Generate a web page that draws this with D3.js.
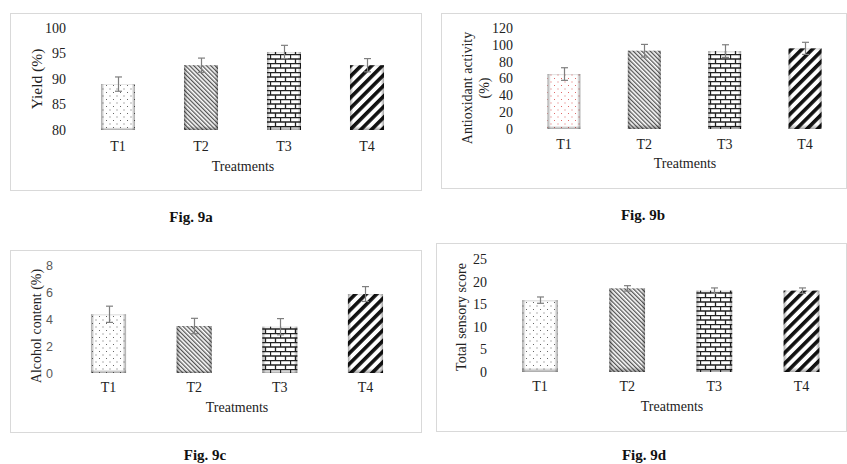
<!DOCTYPE html>
<html>
<head>
<meta charset="utf-8">
<script src="https://cdn.jsdelivr.net/npm/d3@7/dist/d3.min.js"></script>
<style>
  body { margin: 0; background: #fff; }
  svg { display: block; font-family: "Liberation Serif", "Times New Roman", serif; }
</style>
</head>
<body>
<svg id="chart" width="847" height="464"></svg>
<script>
// ── Data ──
const treatments = ["T1", "T2", "T3", "T4"];

const yieldVals = [89.0, 92.7, 95.3, 92.7];
const yieldErr = [1.4, 1.4, 1.3, 1.3];
const yieldTicks = [80, 85, 90, 95, 100];

const antioxVals = [65.3, 93.0, 92.6, 95.8];
const antioxErr = [7.5, 7.5, 7.5, 7.2];
const antioxTicks = [0, 20, 40, 60, 80, 100, 120];

const alcoholVals = [4.35, 3.48, 3.43, 5.85];
const alcoholErr = [0.6, 0.57, 0.6, 0.55];
const alcoholTicks = [0, 2, 4, 6, 8];

const sensoryVals = [15.9, 18.5, 18.0, 18.0];
const sensoryErr = [0.7, 0.6, 0.6, 0.6];
const sensoryTicks = [0, 5, 10, 15, 20, 25];

const SERIF = "'Liberation Serif', 'Times New Roman', serif";
const SANS = "'Liberation Sans', Arial, sans-serif";

const svg = d3.select("#chart");
const defs = svg.append("defs");

// ── Fill patterns ──
function dotPattern(id, col) {
  const p = defs.append("pattern").attr("id", id).attr("patternUnits", "userSpaceOnUse")
    .attr("width", 7).attr("height", 7);
  p.append("rect").attr("width", 7).attr("height", 7).attr("fill", "#fff");
  p.append("rect").attr("x", 1).attr("y", 1).attr("width", 1).attr("height", 1).attr("fill", col);
  p.append("rect").attr("x", 4.5).attr("y", 4.5).attr("width", 1).attr("height", 1).attr("fill", col);
}
dotPattern("dots", "#666");
dotPattern("dotsRed", "#e06a6a");

function linePattern(id, gap, w, col, angle) {
  const p = defs.append("pattern").attr("id", id).attr("patternUnits", "userSpaceOnUse")
    .attr("width", gap).attr("height", gap).attr("patternTransform", `rotate(${angle})`);
  p.append("rect").attr("width", gap).attr("height", gap).attr("fill", "#fff");
  p.append("line").attr("x1", w / 2).attr("x2", w / 2).attr("y1", 0).attr("y2", gap)
    .attr("stroke", col).attr("stroke-width", w);
}
linePattern("thin", 3, 1.3, "#555", -45);
linePattern("thick", 7.5, 3.6, "#111", 45);

const brick = defs.append("pattern").attr("id", "brick").attr("patternUnits", "userSpaceOnUse")
  .attr("width", 10).attr("height", 9);
brick.append("rect").attr("width", 10).attr("height", 9).attr("fill", "#fff");
brick.append("path")
  .attr("d", "M0,0.5H10M0,5H10M0.5,0.5V5M5.5,5V9")
  .attr("stroke", "#222").attr("stroke-width", 1.3).attr("fill", "none");

// bevel shading on bar edges
const gH = defs.append("linearGradient").attr("id", "bevelH").attr("x1", 0).attr("x2", 1).attr("y1", 0).attr("y2", 0);
[[0, .35], [.1, 0], [.9, 0], [1, .35]].forEach(([o, a]) =>
  gH.append("stop").attr("offset", o).attr("stop-color", "#000").attr("stop-opacity", a));
const gV = defs.append("linearGradient").attr("id", "bevelV").attr("x1", 0).attr("x2", 0).attr("y1", 0).attr("y2", 1);
[[0, .15], [.03, 0], [.94, 0], [1, .35]].forEach(([o, a]) =>
  gV.append("stop").attr("offset", o).attr("stop-color", "#000").attr("stop-opacity", a));

const fills = ["url(#dots)", "url(#thin)", "url(#brick)", "url(#thick)"];

// ── One panel ──
function drawPanel(o) {
  const g = svg.append("g");
  g.append("rect").attr("x", o.box[0] + .5).attr("y", o.box[1] + .5)
    .attr("width", o.box[2] - o.box[0]).attr("height", o.box[3] - o.box[1])
    .attr("fill", "none").attr("stroke", "#d9d9d9");

  const x = d3.scaleBand().domain(treatments).range(o.xr).paddingInner(.59).paddingOuter(.295);
  const y = d3.scaleLinear().domain([o.ticks[0], o.ticks[o.ticks.length - 1]]).range(o.yr);

  const bars = g.selectAll(".bar").data(o.vals).join("g").attr("class", "bar");
  bars.each(function (v, i) {
    const b = d3.select(this);
    const bx = x(treatments[i]), by = y(v), bw = x.bandwidth(), bh = y(o.ticks[0]) - y(v);
    const f = i === 0 && o.redDots ? "url(#dotsRed)" : fills[i];
    b.append("rect").attr("x", bx).attr("y", by).attr("width", bw).attr("height", bh).attr("fill", f);
    b.append("rect").attr("x", bx).attr("y", by).attr("width", bw).attr("height", bh).attr("fill", "url(#bevelH)");
    b.append("rect").attr("x", bx).attr("y", by).attr("width", bw).attr("height", bh).attr("fill", "url(#bevelV)");
  });

  // error bars
  const eb = g.selectAll(".err").data(o.vals).join("g").attr("class", "err")
    .attr("stroke", "#7f7f7f").attr("stroke-width", 1.2);
  eb.each(function (v, i) {
    const e = d3.select(this);
    const cx = Math.round(x(treatments[i]) + x.bandwidth() / 2) + .5;
    const y0 = y(v - o.err[i]), y1 = y(v + o.err[i]);
    e.append("line").attr("x1", cx).attr("x2", cx).attr("y1", y0).attr("y2", y1);
    e.append("line").attr("x1", cx - 3.5).attr("x2", cx + 3.5).attr("y1", y0).attr("y2", y0);
    e.append("line").attr("x1", cx - 3.5).attr("x2", cx + 3.5).attr("y1", y1).attr("y2", y1);
  });

  // axes
  const yAx = g.append("g").attr("transform", `translate(${o.xr[0]},0)`)
    .call(d3.axisLeft(y).tickValues(o.ticks).tickSize(0).tickPadding(o.tickPad))
    .attr("font-family", o.sansTicks ? SANS : SERIF)
    .attr("font-size", o.sansTicks ? 12.5 : 14);
  yAx.select(".domain").remove();
  yAx.selectAll("text").attr("fill", o.sansTicks ? "#595959" : "#222");

  const xAx = g.append("g").attr("transform", `translate(0,${o.yr[0]})`)
    .call(d3.axisBottom(x).tickSize(0).tickPadding(o.xPad))
    .attr("font-family", SERIF).attr("font-size", 14);
  xAx.select(".domain").remove();
  xAx.selectAll("text").attr("fill", "#222");

  g.append("text").attr("x", o.xTitle[0]).attr("y", o.xTitle[1])
    .attr("text-anchor", "middle").attr("font-size", 14).attr("fill", "#222").text("Treatments");

  o.yTitle.forEach((t, k) => {
    g.append("text").attr("transform", `translate(${o.yTitleX[k]},${o.yTitleY}) rotate(-90)`)
      .attr("text-anchor", "middle").attr("font-size", o.yTitleSize || 14).attr("fill", "#222").text(t);
  });

  g.append("text").attr("x", o.fig[0]).attr("y", o.fig[1]).attr("text-anchor", "middle")
    .attr("font-size", 15).attr("font-weight", "bold").attr("fill", "#111").text(o.figLabel);
}

drawPanel({
  box: [10, 13, 421, 190], xr: [76.5, 408.5], yr: [130, 28],
  vals: yieldVals, err: yieldErr, ticks: yieldTicks, tickPad: 10.5, xPad: 11,
  xTitle: [243, 171], yTitle: ["Yield (%)"], yTitleX: [42], yTitleY: 79, yTitleSize: 15.5,
  fig: [191, 222], figLabel: "Fig. 9a"
});

drawPanel({
  box: [441, 13, 846, 188], xr: [523.75, 845.25], yr: [129, 28],
  vals: antioxVals, err: antioxErr, ticks: antioxTicks, tickPad: 10.75, xPad: 10, redDots: true,
  xTitle: [685, 168], yTitle: ["Antioxidant activity", "(%)"], yTitleX: [472, 489], yTitleY: 88,
  fig: [643, 220], figLabel: "Fig. 9b"
});

drawPanel({
  box: [10, 250, 421, 432], xr: [65.7, 408.3], yr: [373, 265],
  vals: alcoholVals, err: alcoholErr, ticks: alcoholTicks, tickPad: 12.7, xPad: 9, sansTicks: true,
  xTitle: [237, 412], yTitle: ["Alcohol content (%)"], yTitleX: [41], yTitleY: 326,
  fig: [205, 460], figLabel: "Fig. 9c"
});

drawPanel({
  box: [436, 243, 846, 431], xr: [496.4, 845.1], yr: [372, 259],
  vals: sensoryVals, err: sensoryErr, ticks: sensoryTicks, tickPad: 9.4, xPad: 9,
  xTitle: [672, 411], yTitle: ["Total sensory score"], yTitleX: [466], yTitleY: 317,
  fig: [644, 460], figLabel: "Fig. 9d"
});
</script>
</body>
</html>
